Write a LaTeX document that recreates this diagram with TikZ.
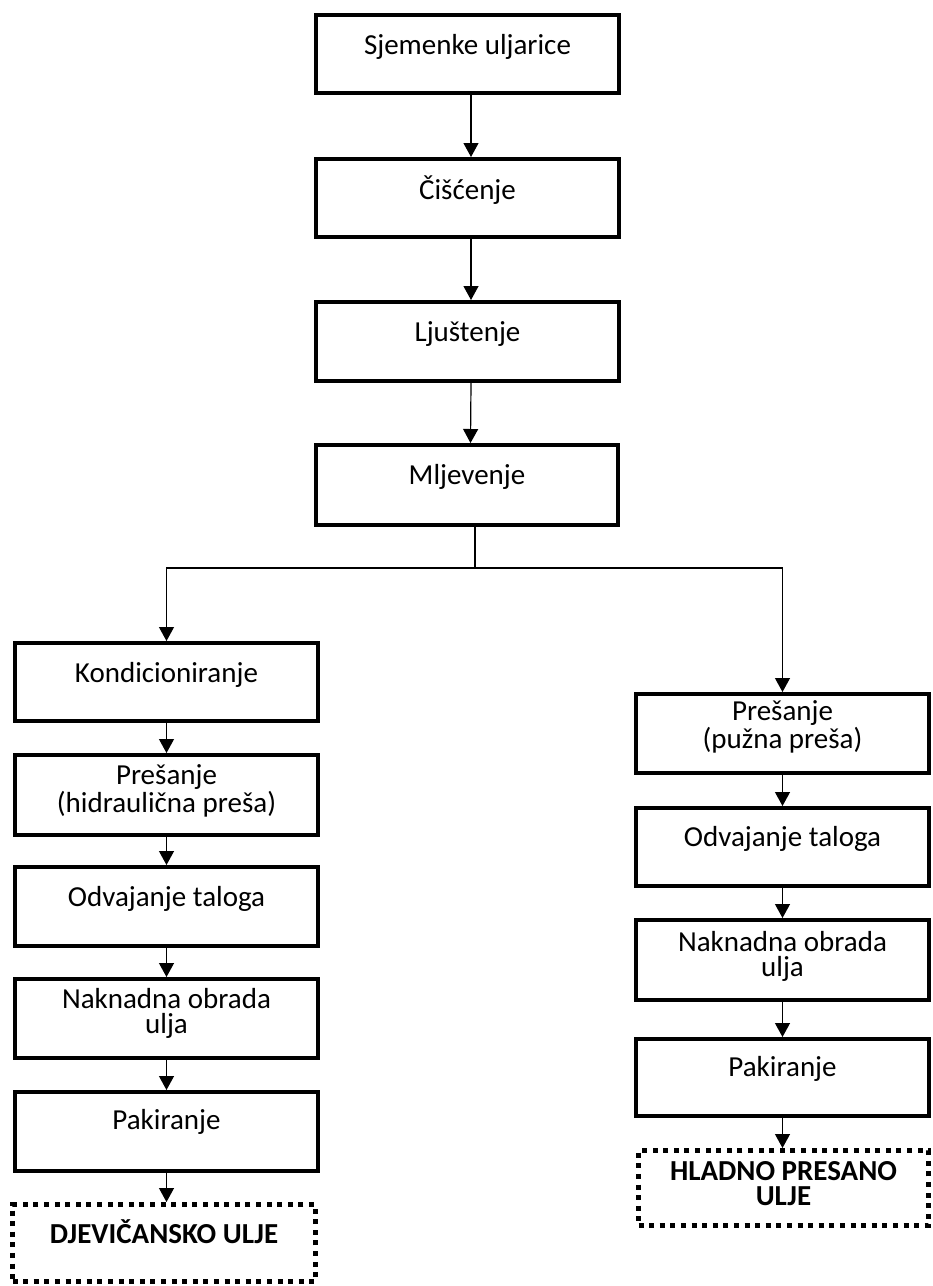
\documentclass[tikz,border=0pt]{standalone}
\usepackage{fontspec}
\setmainfont{Carlito}
\usetikzlibrary{arrows.meta}
\begin{document}
\begin{tikzpicture}[x=1pt,y=-1pt,
  bx/.style={draw, line width=3.6pt, outer sep=1.8pt, inner sep=0pt, anchor=north west},
  dbx/.style={draw, line width=5pt, dash pattern=on 5pt off 5.6pt, outer sep=2.5pt, inner sep=0pt, anchor=north west},
  txt/.style={font=\fontsize{29}{25}\selectfont, align=center, inner sep=0pt, anchor=base},
  btxt/.style={txt, font=\fontsize{29}{25}\selectfont\bfseries},
  conn/.style={line width=1.2pt},
  arr/.style={conn, -{Triangle[width=15pt,length=14pt]}}]
\useasboundingbox (0,0) rectangle (933,1286);
% top column
\node[bx, minimum width=303.4pt, minimum height=78.4pt] (sj) at (314,13) {};
\node[bx, minimum width=303.4pt, minimum height=78.4pt] (ci) at (314,157) {};
\node[bx, minimum width=303.4pt, minimum height=79.4pt] (lj) at (314,300) {};
\node[bx, minimum width=302.4pt, minimum height=80.4pt] (ml) at (314,443) {};
\node[txt] (sj-t) at ([yshift=-41pt]sj.north) {Sjemenke uljarice};
\node[txt] (ci-t) at ([yshift=-42pt]ci.north) {Čišćenje};
\node[txt] (lj-t) at ([yshift=-41pt]lj.north) {Ljuštenje};
\node[txt] (ml-t) at ([yshift=-41pt]ml.north) {Mljevenje};
% left column
\node[bx, minimum width=303.4pt, minimum height=78.4pt] (ko) at (13,641) {};
\node[bx, minimum width=303.4pt, minimum height=80.4pt] (ph) at (13,753) {};
\node[bx, minimum width=303.4pt, minimum height=79.4pt] (ot) at (13,865) {};
\node[bx, minimum width=303.4pt, minimum height=79.4pt] (nl) at (13,977) {};
\node[bx, minimum width=303.4pt, minimum height=79.4pt] (pl) at (13,1090) {};
\node[dbx, minimum width=303pt, minimum height=77pt] (dj) at (10,1202) {};
\node[txt] (ko-t) at ([yshift=-41pt]ko.north) {Kondicioniranje};
\node[txt] (ph-t) at ([yshift=-59pt]ph.north) {Prešanje\\(hidraulična preša)};
\node[txt] (ot-t) at ([yshift=-41pt]ot.north) {Odvajanje taloga};
\node[txt] (nl-t) at ([yshift=-56pt]nl.north) {Naknadna obrada\\ulja};
\node[txt] (pl-t) at ([yshift=-39pt]pl.north) {Pakiranje};
\node[btxt] (dj-t) at ([yshift=-41pt]dj.north) {DJEVIČANSKO ULJE};
% right column
\node[bx, minimum width=293.4pt, minimum height=79.4pt] (pp) at (634,692) {};
\node[bx, minimum width=293.4pt, minimum height=78.4pt] (or) at (634,806) {};
\node[bx, minimum width=293.4pt, minimum height=80.4pt] (nr) at (634,918) {};
\node[bx, minimum width=293.4pt, minimum height=77.4pt] (pr) at (634,1037) {};
\node[dbx, minimum width=290pt, minimum height=75pt] (hl) at (636,1148) {};
\node[txt] (pp-t) at ([yshift=-56pt]pp.north) {Prešanje\\(pužna preša)};
\node[txt] (or-t) at ([yshift=-40pt]or.north) {Odvajanje taloga};
\node[txt] (nr-t) at ([yshift=-58pt]nr.north) {Naknadna obrada\\ulja};
\node[txt] (pr-t) at ([yshift=-39pt]pr.north) {Pakiranje};
\node[btxt] (hl-t) at ([yshift=-57pt]hl.north) {HLADNO PRESANO\\ULJE};
% connectors top
\draw[arr] ([xshift=3.5pt]sj.south) -- ([xshift=3.5pt]ci.north);
\draw[arr] ([xshift=3.5pt]ci.south) -- ([xshift=3.5pt]lj.north);
\draw[arr] ([xshift=3.5pt]lj.south) -- ([xshift=3.5pt]ml.north);
% branch
\coordinate (br) at (475,568);
\draw[conn] (br |- ml.south) -- (br);
\draw[arr] (br) -| (ko.north);
\draw[arr] (br) -| (pp.north);
% left chain
\draw[arr] (ko.south) -- (ph.north);
\draw[arr] (ph.south) -- (ot.north);
\draw[arr] (ot.south) -- (nl.north);
\draw[arr] (nl.south) -- (pl.north);
\draw[arr] (pl.south) -- (pl.south |- dj.north);
% right chain
\draw[arr] (pp.south) -- (or.north);
\draw[arr] (or.south) -- (nr.north);
\draw[arr] (nr.south) -- (pr.north);
\draw[arr] (pr.south) -- (pr.south |- hl.north);
\end{tikzpicture}
\end{document}
